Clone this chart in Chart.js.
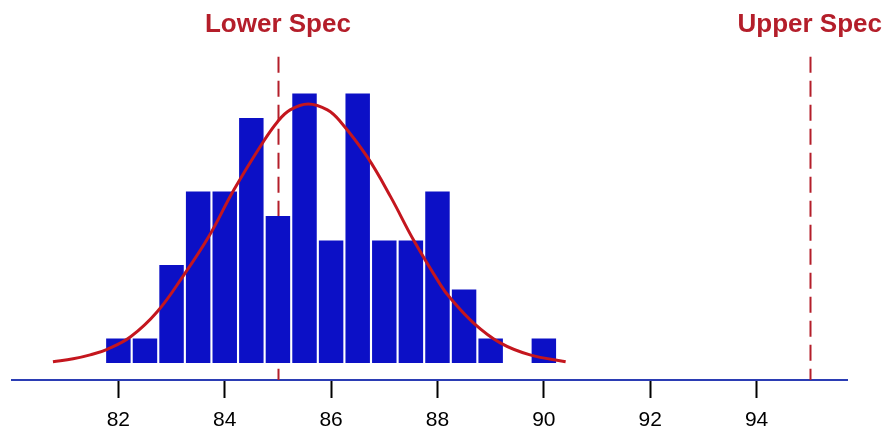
<!DOCTYPE html>
<html>
<head>
<meta charset="utf-8">
<script src="https://cdn.jsdelivr.net/npm/chart.js@4/dist/chart.umd.min.js"></script>
<style>
  html, body { margin: 0; padding: 0; background: #fff; }
  #wrap { width: 887px; height: 430px; }
</style>
</head>
<body>
<div id="wrap"><canvas id="histChart" width="887" height="430"></canvas></div>
<script>
/* ---- Data ---- */
const binCenters = [82, 82.5, 83, 83.5, 84, 84.5, 85, 85.5, 86, 86.5, 87, 87.5, 88, 88.5, 89, 89.5, 90];
const binCounts  = [1, 1, 4, 7, 7, 10, 6, 11, 5, 11, 5, 5, 7, 3, 1, 0, 1];

// fitted curve, traced point by point
const curveX = [80.77, 81.15, 81.47, 81.79, 82.23, 82.73, 83.23, 83.70, 84.17, 84.71, 84.99, 85.23, 85.57,
                85.93, 86.18, 86.68, 87.12, 87.55, 88.06, 88.24, 88.68, 89.18, 89.74, 90.41];
const curveY = [0.05, 0.17, 0.33, 0.56, 1.07, 2.09, 3.59, 5.16, 7.06, 8.98, 9.84, 10.33, 10.57,
                10.33, 9.84, 8.41, 6.78, 5.02, 3.18, 2.65, 1.63, 0.82, 0.33, 0.05];

const specLimits = [85, 95];
const specLabels = ["Lower Spec", "Upper Spec"];
const tickValues = [82, 84, 86, 88, 90, 92, 94];

/* ---- Colours ---- */
const palette = {
  bar:   "#0c10c6",
  curve: "#c4161e",
  spec:  "#b41e2a",
  axis:  "#2b3db4",
  text:  "#000000"
};

const FONT = "'Liberation Sans', Arial, sans-serif";

/* ---- Spec lines + labels ---- */
const specPlugin = {
  id: "specLines",
  beforeDatasetsDraw(chart) {
    const { ctx, chartArea, scales: { x, y } } = chart;
    ctx.save();
    ctx.strokeStyle = palette.spec;
    ctx.lineWidth = 2;
    ctx.setLineDash([16, 8]);
    specLimits.forEach(v => {
      const px = Math.round(x.getPixelForValue(v)) + 0.5;
      ctx.beginPath();
      ctx.moveTo(px, y.getPixelForValue(12.5));
      ctx.lineTo(px, chartArea.bottom);
      ctx.stroke();
    });
    ctx.restore();
  },
  afterDatasetsDraw(chart) {
    const { ctx, scales: { x } } = chart;
    ctx.save();
    ctx.fillStyle = palette.spec;
    ctx.font = "bold 26px " + FONT;
    ctx.textAlign = "center";
    ctx.textBaseline = "alphabetic";
    specLimits.forEach((v, i) => {
      ctx.fillText(specLabels[i], x.getPixelForValue(v), 32);
    });
    ctx.restore();
  }
};

const ctx = document.getElementById("histChart");

new Chart(ctx, {
  data: {
    datasets: [
      {
        type: "line",
        data: curveX.map((v, i) => ({ x: v, y: curveY[i] })),
        borderColor: palette.curve,
        borderWidth: 3,
        pointRadius: 0,
        tension: 0.4,
        fill: false,
        order: 0
      },
      {
        type: "bar",
        data: binCenters.map((v, i) => ({ x: v, y: binCounts[i] })),
        backgroundColor: palette.bar,
        borderWidth: 0,
        barPercentage: 0.92,
        categoryPercentage: 1,
        order: 1
      }
    ]
  },
  options: {
    responsive: false,
    animation: false,
    layout: { padding: { left: 12, right: 40, top: 0, bottom: 0 } },
    plugins: {
      legend: { display: false },
      tooltip: { enabled: false }
    },
    scales: {
      x: {
        type: "linear",
        min: 80,
        max: 95.7,
        offset: false,
        afterBuildTicks: axis => { axis.ticks = tickValues.map(v => ({ value: v })); },
        afterFit: axis => { axis.height = 50; },
        border: { display: true, color: palette.axis, width: 2 },
        grid: {
          offset: false,
          drawOnChartArea: false,
          drawTicks: true,
          tickLength: 18,
          tickWidth: 2,
          tickColor: "#000"
        },
        ticks: {
          color: palette.text,
          font: { family: FONT, size: 21 },
          padding: 10,
          maxRotation: 0
        }
      },
      y: {
        display: false,
        min: -0.694,
        max: 14.816
      }
    }
  },
  plugins: [specPlugin]
});
</script>
</body>
</html>
